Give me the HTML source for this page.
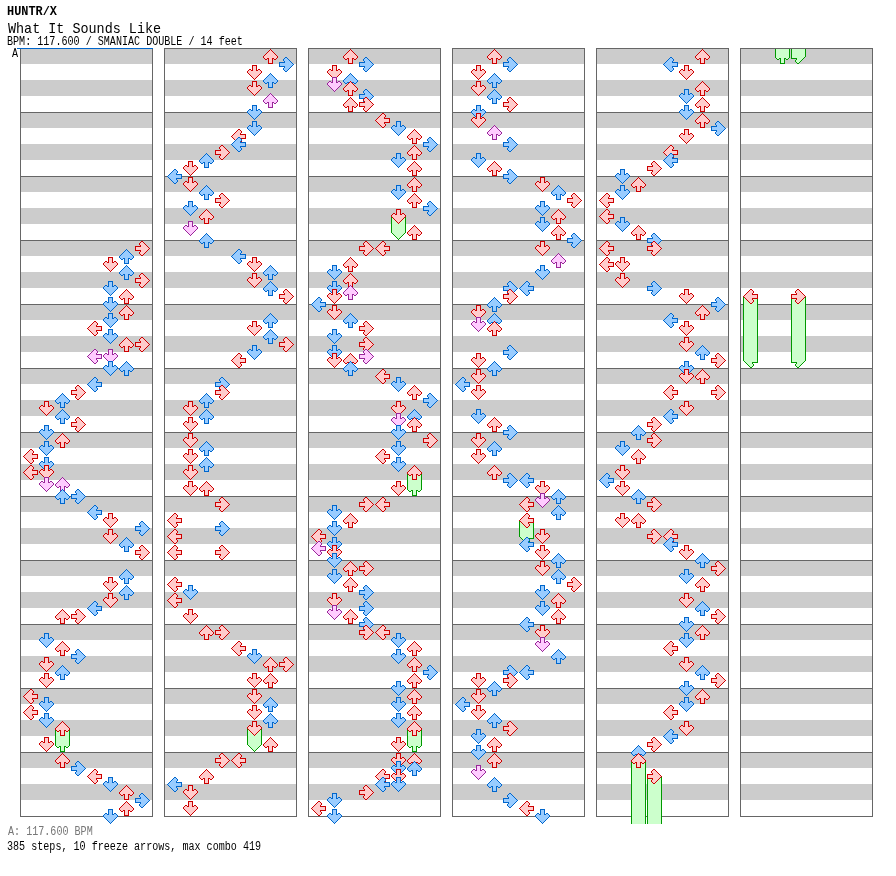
<!DOCTYPE html>
<html><head><meta charset="utf-8"><title>HUNTR/X - What It Sounds Like</title>
<style>
html,body{margin:0;padding:0;background:#fff}
body{width:896px;height:876px;position:relative;overflow:hidden;font-family:"Liberation Mono",monospace;color:#000}
.t{position:absolute;white-space:pre;line-height:1;transform-origin:0 0}
#artist{left:7px;top:6px;font-size:12px;font-weight:bold;transform:scaleX(0.99)}
#title{left:8px;top:22px;font-size:15px;transform:scaleX(0.895)}
#bpm{left:7px;top:36px;font-size:12px;transform:scaleX(0.84)}
#a{left:12px;top:48px;font-size:12px;transform:scaleX(0.84)}
#fa{left:8px;top:826px;font-size:12px;transform:scaleX(0.84);color:#777}
#fs{left:7px;top:841px;font-size:12px;transform:scaleX(0.84)}
</style></head><body>
<svg width="896" height="876" viewBox="0 0 896 876" shape-rendering="crispEdges" style="position:absolute;left:0;top:0">
<defs><symbol id="oL" overflow="visible"><path d="M7 0h2v1h-2zM6 1h1v1h-1zM9 1h1v1h-1zM5 2h1v1h-1zM10 2h1v1h-1zM4 3h1v1h-1zM10 3h1v1h-1zM3 4h1v1h-1zM9 4h1v1h-1zM2 5h1v1h-1zM9 5h6v1h-6zM1 6h1v1h-1zM14 6h1v1h-1zM0 7h1v1h-1zM14 7h1v1h-1zM1 8h1v1h-1zM14 8h1v1h-1zM2 9h1v1h-1zM9 9h6v1h-6zM3 10h1v1h-1zM9 10h1v1h-1zM4 11h1v1h-1zM10 11h1v1h-1zM5 12h1v1h-1zM10 12h1v1h-1zM6 13h1v1h-1zM9 13h1v1h-1zM7 14h2v1h-2z"/></symbol>
<symbol id="fL" overflow="visible"><path d="M7 1h2v1h-2zM6 2h4v1h-4zM5 3h5v1h-5zM4 4h5v1h-5zM3 5h6v1h-6zM2 6h12v1h-12zM1 7h13v1h-13zM2 8h12v1h-12zM3 9h6v1h-6zM4 10h5v1h-5zM5 11h5v1h-5zM6 12h4v1h-4zM7 13h2v1h-2z"/></symbol>
<symbol id="toL" overflow="visible"><path d="M1 8h1v1h-1zM14 8h1v1h-1zM2 9h1v1h-1zM9 9h6v1h-6zM3 10h1v1h-1zM9 10h1v1h-1zM4 11h1v1h-1zM10 11h1v1h-1zM5 12h1v1h-1zM10 12h1v1h-1zM6 13h1v1h-1zM9 13h1v1h-1zM7 14h2v1h-2z"/></symbol>
<symbol id="tfL" overflow="visible"><path d="M2 8h12v1h-12zM3 9h6v1h-6zM4 10h5v1h-5zM5 11h5v1h-5zM6 12h4v1h-4zM7 13h2v1h-2z"/></symbol>
<symbol id="oD" overflow="visible"><path d="M5 0h5v1h-5zM5 1h1v1h-1zM9 1h1v1h-1zM5 2h1v1h-1zM9 2h1v1h-1zM5 3h1v1h-1zM9 3h1v1h-1zM2 4h2v1h-2zM5 4h1v1h-1zM9 4h1v1h-1zM11 4h2v1h-2zM1 5h1v1h-1zM4 5h2v1h-2zM9 5h2v1h-2zM13 5h1v1h-1zM0 6h1v1h-1zM14 6h1v1h-1zM0 7h1v1h-1zM14 7h1v1h-1zM1 8h1v1h-1zM13 8h1v1h-1zM2 9h1v1h-1zM12 9h1v1h-1zM3 10h1v1h-1zM11 10h1v1h-1zM4 11h1v1h-1zM10 11h1v1h-1zM5 12h1v1h-1zM9 12h1v1h-1zM6 13h1v1h-1zM8 13h1v1h-1zM7 14h1v1h-1z"/></symbol>
<symbol id="fD" overflow="visible"><path d="M6 1h3v1h-3zM6 2h3v1h-3zM6 3h3v1h-3zM6 4h3v1h-3zM2 5h2v1h-2zM6 5h3v1h-3zM11 5h2v1h-2zM1 6h13v1h-13zM1 7h13v1h-13zM2 8h11v1h-11zM3 9h9v1h-9zM4 10h7v1h-7zM5 11h5v1h-5zM6 12h3v1h-3zM7 13h1v1h-1z"/></symbol>
<symbol id="toD" overflow="visible"><path d="M1 8h1v1h-1zM13 8h1v1h-1zM2 9h1v1h-1zM12 9h1v1h-1zM3 10h1v1h-1zM11 10h1v1h-1zM4 11h1v1h-1zM10 11h1v1h-1zM5 12h1v1h-1zM9 12h1v1h-1zM6 13h1v1h-1zM8 13h1v1h-1zM7 14h1v1h-1z"/></symbol>
<symbol id="tfD" overflow="visible"><path d="M2 8h11v1h-11zM3 9h9v1h-9zM4 10h7v1h-7zM5 11h5v1h-5zM6 12h3v1h-3zM7 13h1v1h-1z"/></symbol>
<symbol id="oU" overflow="visible"><path d="M7 0h1v1h-1zM6 1h1v1h-1zM8 1h1v1h-1zM5 2h1v1h-1zM9 2h1v1h-1zM4 3h1v1h-1zM10 3h1v1h-1zM3 4h1v1h-1zM11 4h1v1h-1zM2 5h1v1h-1zM12 5h1v1h-1zM1 6h1v1h-1zM13 6h1v1h-1zM0 7h1v1h-1zM14 7h1v1h-1zM0 8h1v1h-1zM14 8h1v1h-1zM1 9h1v1h-1zM4 9h2v1h-2zM9 9h2v1h-2zM13 9h1v1h-1zM2 10h2v1h-2zM5 10h1v1h-1zM9 10h1v1h-1zM11 10h2v1h-2zM5 11h1v1h-1zM9 11h1v1h-1zM5 12h1v1h-1zM9 12h1v1h-1zM5 13h1v1h-1zM9 13h1v1h-1zM5 14h5v1h-5z"/></symbol>
<symbol id="fU" overflow="visible"><path d="M7 1h1v1h-1zM6 2h3v1h-3zM5 3h5v1h-5zM4 4h7v1h-7zM3 5h9v1h-9zM2 6h11v1h-11zM1 7h13v1h-13zM1 8h13v1h-13zM2 9h2v1h-2zM6 9h3v1h-3zM11 9h2v1h-2zM6 10h3v1h-3zM6 11h3v1h-3zM6 12h3v1h-3zM6 13h3v1h-3z"/></symbol>
<symbol id="toU" overflow="visible"><path d="M0 8h1v1h-1zM14 8h1v1h-1zM1 9h1v1h-1zM4 9h2v1h-2zM9 9h2v1h-2zM13 9h1v1h-1zM2 10h2v1h-2zM5 10h1v1h-1zM9 10h1v1h-1zM11 10h2v1h-2zM5 11h1v1h-1zM9 11h1v1h-1zM5 12h1v1h-1zM9 12h1v1h-1zM5 13h1v1h-1zM9 13h1v1h-1zM5 14h5v1h-5z"/></symbol>
<symbol id="tfU" overflow="visible"><path d="M1 8h13v1h-13zM2 9h2v1h-2zM6 9h3v1h-3zM11 9h2v1h-2zM6 10h3v1h-3zM6 11h3v1h-3zM6 12h3v1h-3zM6 13h3v1h-3z"/></symbol>
<symbol id="oR" overflow="visible"><path d="M6 0h2v1h-2zM5 1h1v1h-1zM8 1h1v1h-1zM4 2h1v1h-1zM9 2h1v1h-1zM4 3h1v1h-1zM10 3h1v1h-1zM5 4h1v1h-1zM11 4h1v1h-1zM0 5h6v1h-6zM12 5h1v1h-1zM0 6h1v1h-1zM13 6h1v1h-1zM0 7h1v1h-1zM14 7h1v1h-1zM0 8h1v1h-1zM13 8h1v1h-1zM0 9h6v1h-6zM12 9h1v1h-1zM5 10h1v1h-1zM11 10h1v1h-1zM4 11h1v1h-1zM10 11h1v1h-1zM4 12h1v1h-1zM9 12h1v1h-1zM5 13h1v1h-1zM8 13h1v1h-1zM6 14h2v1h-2z"/></symbol>
<symbol id="fR" overflow="visible"><path d="M6 1h2v1h-2zM5 2h4v1h-4zM5 3h5v1h-5zM6 4h5v1h-5zM6 5h6v1h-6zM1 6h12v1h-12zM1 7h13v1h-13zM1 8h12v1h-12zM6 9h6v1h-6zM6 10h5v1h-5zM5 11h5v1h-5zM5 12h4v1h-4zM6 13h2v1h-2z"/></symbol>
<symbol id="toR" overflow="visible"><path d="M0 8h1v1h-1zM13 8h1v1h-1zM0 9h6v1h-6zM12 9h1v1h-1zM5 10h1v1h-1zM11 10h1v1h-1zM4 11h1v1h-1zM10 11h1v1h-1zM4 12h1v1h-1zM9 12h1v1h-1zM5 13h1v1h-1zM8 13h1v1h-1zM6 14h2v1h-2z"/></symbol>
<symbol id="tfR" overflow="visible"><path d="M1 8h12v1h-12zM6 9h6v1h-6zM6 10h5v1h-5zM5 11h5v1h-5zM5 12h4v1h-4zM6 13h2v1h-2z"/></symbol></defs>
<rect x="20" y="48" width="133" height="769" fill="#666"/>
<rect x="21" y="49" width="131" height="767" fill="#fff"/>
<rect x="21" y="49" width="131" height="15" fill="#ccc"/>
<rect x="21" y="80" width="131" height="16" fill="#ccc"/>
<rect x="21" y="113" width="131" height="15" fill="#ccc"/>
<rect x="21" y="144" width="131" height="16" fill="#ccc"/>
<rect x="20" y="112" width="133" height="1" fill="#666"/>
<rect x="21" y="177" width="131" height="15" fill="#ccc"/>
<rect x="21" y="208" width="131" height="16" fill="#ccc"/>
<rect x="20" y="176" width="133" height="1" fill="#666"/>
<rect x="21" y="241" width="131" height="15" fill="#ccc"/>
<rect x="21" y="272" width="131" height="16" fill="#ccc"/>
<rect x="20" y="240" width="133" height="1" fill="#666"/>
<rect x="21" y="305" width="131" height="15" fill="#ccc"/>
<rect x="21" y="336" width="131" height="16" fill="#ccc"/>
<rect x="20" y="304" width="133" height="1" fill="#666"/>
<rect x="21" y="369" width="131" height="15" fill="#ccc"/>
<rect x="21" y="400" width="131" height="16" fill="#ccc"/>
<rect x="20" y="368" width="133" height="1" fill="#666"/>
<rect x="21" y="433" width="131" height="15" fill="#ccc"/>
<rect x="21" y="464" width="131" height="16" fill="#ccc"/>
<rect x="20" y="432" width="133" height="1" fill="#666"/>
<rect x="21" y="497" width="131" height="15" fill="#ccc"/>
<rect x="21" y="528" width="131" height="16" fill="#ccc"/>
<rect x="20" y="496" width="133" height="1" fill="#666"/>
<rect x="21" y="561" width="131" height="15" fill="#ccc"/>
<rect x="21" y="592" width="131" height="16" fill="#ccc"/>
<rect x="20" y="560" width="133" height="1" fill="#666"/>
<rect x="21" y="625" width="131" height="15" fill="#ccc"/>
<rect x="21" y="656" width="131" height="16" fill="#ccc"/>
<rect x="20" y="624" width="133" height="1" fill="#666"/>
<rect x="21" y="689" width="131" height="15" fill="#ccc"/>
<rect x="21" y="720" width="131" height="16" fill="#ccc"/>
<rect x="20" y="688" width="133" height="1" fill="#666"/>
<rect x="21" y="753" width="131" height="15" fill="#ccc"/>
<rect x="21" y="784" width="131" height="16" fill="#ccc"/>
<rect x="20" y="752" width="133" height="1" fill="#666"/>
<rect x="164" y="48" width="133" height="769" fill="#666"/>
<rect x="165" y="49" width="131" height="767" fill="#fff"/>
<rect x="165" y="49" width="131" height="15" fill="#ccc"/>
<rect x="165" y="80" width="131" height="16" fill="#ccc"/>
<rect x="165" y="113" width="131" height="15" fill="#ccc"/>
<rect x="165" y="144" width="131" height="16" fill="#ccc"/>
<rect x="164" y="112" width="133" height="1" fill="#666"/>
<rect x="165" y="177" width="131" height="15" fill="#ccc"/>
<rect x="165" y="208" width="131" height="16" fill="#ccc"/>
<rect x="164" y="176" width="133" height="1" fill="#666"/>
<rect x="165" y="241" width="131" height="15" fill="#ccc"/>
<rect x="165" y="272" width="131" height="16" fill="#ccc"/>
<rect x="164" y="240" width="133" height="1" fill="#666"/>
<rect x="165" y="305" width="131" height="15" fill="#ccc"/>
<rect x="165" y="336" width="131" height="16" fill="#ccc"/>
<rect x="164" y="304" width="133" height="1" fill="#666"/>
<rect x="165" y="369" width="131" height="15" fill="#ccc"/>
<rect x="165" y="400" width="131" height="16" fill="#ccc"/>
<rect x="164" y="368" width="133" height="1" fill="#666"/>
<rect x="165" y="433" width="131" height="15" fill="#ccc"/>
<rect x="165" y="464" width="131" height="16" fill="#ccc"/>
<rect x="164" y="432" width="133" height="1" fill="#666"/>
<rect x="165" y="497" width="131" height="15" fill="#ccc"/>
<rect x="165" y="528" width="131" height="16" fill="#ccc"/>
<rect x="164" y="496" width="133" height="1" fill="#666"/>
<rect x="165" y="561" width="131" height="15" fill="#ccc"/>
<rect x="165" y="592" width="131" height="16" fill="#ccc"/>
<rect x="164" y="560" width="133" height="1" fill="#666"/>
<rect x="165" y="625" width="131" height="15" fill="#ccc"/>
<rect x="165" y="656" width="131" height="16" fill="#ccc"/>
<rect x="164" y="624" width="133" height="1" fill="#666"/>
<rect x="165" y="689" width="131" height="15" fill="#ccc"/>
<rect x="165" y="720" width="131" height="16" fill="#ccc"/>
<rect x="164" y="688" width="133" height="1" fill="#666"/>
<rect x="165" y="753" width="131" height="15" fill="#ccc"/>
<rect x="165" y="784" width="131" height="16" fill="#ccc"/>
<rect x="164" y="752" width="133" height="1" fill="#666"/>
<rect x="308" y="48" width="133" height="769" fill="#666"/>
<rect x="309" y="49" width="131" height="767" fill="#fff"/>
<rect x="309" y="49" width="131" height="15" fill="#ccc"/>
<rect x="309" y="80" width="131" height="16" fill="#ccc"/>
<rect x="309" y="113" width="131" height="15" fill="#ccc"/>
<rect x="309" y="144" width="131" height="16" fill="#ccc"/>
<rect x="308" y="112" width="133" height="1" fill="#666"/>
<rect x="309" y="177" width="131" height="15" fill="#ccc"/>
<rect x="309" y="208" width="131" height="16" fill="#ccc"/>
<rect x="308" y="176" width="133" height="1" fill="#666"/>
<rect x="309" y="241" width="131" height="15" fill="#ccc"/>
<rect x="309" y="272" width="131" height="16" fill="#ccc"/>
<rect x="308" y="240" width="133" height="1" fill="#666"/>
<rect x="309" y="305" width="131" height="15" fill="#ccc"/>
<rect x="309" y="336" width="131" height="16" fill="#ccc"/>
<rect x="308" y="304" width="133" height="1" fill="#666"/>
<rect x="309" y="369" width="131" height="15" fill="#ccc"/>
<rect x="309" y="400" width="131" height="16" fill="#ccc"/>
<rect x="308" y="368" width="133" height="1" fill="#666"/>
<rect x="309" y="433" width="131" height="15" fill="#ccc"/>
<rect x="309" y="464" width="131" height="16" fill="#ccc"/>
<rect x="308" y="432" width="133" height="1" fill="#666"/>
<rect x="309" y="497" width="131" height="15" fill="#ccc"/>
<rect x="309" y="528" width="131" height="16" fill="#ccc"/>
<rect x="308" y="496" width="133" height="1" fill="#666"/>
<rect x="309" y="561" width="131" height="15" fill="#ccc"/>
<rect x="309" y="592" width="131" height="16" fill="#ccc"/>
<rect x="308" y="560" width="133" height="1" fill="#666"/>
<rect x="309" y="625" width="131" height="15" fill="#ccc"/>
<rect x="309" y="656" width="131" height="16" fill="#ccc"/>
<rect x="308" y="624" width="133" height="1" fill="#666"/>
<rect x="309" y="689" width="131" height="15" fill="#ccc"/>
<rect x="309" y="720" width="131" height="16" fill="#ccc"/>
<rect x="308" y="688" width="133" height="1" fill="#666"/>
<rect x="309" y="753" width="131" height="15" fill="#ccc"/>
<rect x="309" y="784" width="131" height="16" fill="#ccc"/>
<rect x="308" y="752" width="133" height="1" fill="#666"/>
<rect x="452" y="48" width="133" height="769" fill="#666"/>
<rect x="453" y="49" width="131" height="767" fill="#fff"/>
<rect x="453" y="49" width="131" height="15" fill="#ccc"/>
<rect x="453" y="80" width="131" height="16" fill="#ccc"/>
<rect x="453" y="113" width="131" height="15" fill="#ccc"/>
<rect x="453" y="144" width="131" height="16" fill="#ccc"/>
<rect x="452" y="112" width="133" height="1" fill="#666"/>
<rect x="453" y="177" width="131" height="15" fill="#ccc"/>
<rect x="453" y="208" width="131" height="16" fill="#ccc"/>
<rect x="452" y="176" width="133" height="1" fill="#666"/>
<rect x="453" y="241" width="131" height="15" fill="#ccc"/>
<rect x="453" y="272" width="131" height="16" fill="#ccc"/>
<rect x="452" y="240" width="133" height="1" fill="#666"/>
<rect x="453" y="305" width="131" height="15" fill="#ccc"/>
<rect x="453" y="336" width="131" height="16" fill="#ccc"/>
<rect x="452" y="304" width="133" height="1" fill="#666"/>
<rect x="453" y="369" width="131" height="15" fill="#ccc"/>
<rect x="453" y="400" width="131" height="16" fill="#ccc"/>
<rect x="452" y="368" width="133" height="1" fill="#666"/>
<rect x="453" y="433" width="131" height="15" fill="#ccc"/>
<rect x="453" y="464" width="131" height="16" fill="#ccc"/>
<rect x="452" y="432" width="133" height="1" fill="#666"/>
<rect x="453" y="497" width="131" height="15" fill="#ccc"/>
<rect x="453" y="528" width="131" height="16" fill="#ccc"/>
<rect x="452" y="496" width="133" height="1" fill="#666"/>
<rect x="453" y="561" width="131" height="15" fill="#ccc"/>
<rect x="453" y="592" width="131" height="16" fill="#ccc"/>
<rect x="452" y="560" width="133" height="1" fill="#666"/>
<rect x="453" y="625" width="131" height="15" fill="#ccc"/>
<rect x="453" y="656" width="131" height="16" fill="#ccc"/>
<rect x="452" y="624" width="133" height="1" fill="#666"/>
<rect x="453" y="689" width="131" height="15" fill="#ccc"/>
<rect x="453" y="720" width="131" height="16" fill="#ccc"/>
<rect x="452" y="688" width="133" height="1" fill="#666"/>
<rect x="453" y="753" width="131" height="15" fill="#ccc"/>
<rect x="453" y="784" width="131" height="16" fill="#ccc"/>
<rect x="452" y="752" width="133" height="1" fill="#666"/>
<rect x="596" y="48" width="133" height="769" fill="#666"/>
<rect x="597" y="49" width="131" height="767" fill="#fff"/>
<rect x="597" y="49" width="131" height="15" fill="#ccc"/>
<rect x="597" y="80" width="131" height="16" fill="#ccc"/>
<rect x="597" y="113" width="131" height="15" fill="#ccc"/>
<rect x="597" y="144" width="131" height="16" fill="#ccc"/>
<rect x="596" y="112" width="133" height="1" fill="#666"/>
<rect x="597" y="177" width="131" height="15" fill="#ccc"/>
<rect x="597" y="208" width="131" height="16" fill="#ccc"/>
<rect x="596" y="176" width="133" height="1" fill="#666"/>
<rect x="597" y="241" width="131" height="15" fill="#ccc"/>
<rect x="597" y="272" width="131" height="16" fill="#ccc"/>
<rect x="596" y="240" width="133" height="1" fill="#666"/>
<rect x="597" y="305" width="131" height="15" fill="#ccc"/>
<rect x="597" y="336" width="131" height="16" fill="#ccc"/>
<rect x="596" y="304" width="133" height="1" fill="#666"/>
<rect x="597" y="369" width="131" height="15" fill="#ccc"/>
<rect x="597" y="400" width="131" height="16" fill="#ccc"/>
<rect x="596" y="368" width="133" height="1" fill="#666"/>
<rect x="597" y="433" width="131" height="15" fill="#ccc"/>
<rect x="597" y="464" width="131" height="16" fill="#ccc"/>
<rect x="596" y="432" width="133" height="1" fill="#666"/>
<rect x="597" y="497" width="131" height="15" fill="#ccc"/>
<rect x="597" y="528" width="131" height="16" fill="#ccc"/>
<rect x="596" y="496" width="133" height="1" fill="#666"/>
<rect x="597" y="561" width="131" height="15" fill="#ccc"/>
<rect x="597" y="592" width="131" height="16" fill="#ccc"/>
<rect x="596" y="560" width="133" height="1" fill="#666"/>
<rect x="597" y="625" width="131" height="15" fill="#ccc"/>
<rect x="597" y="656" width="131" height="16" fill="#ccc"/>
<rect x="596" y="624" width="133" height="1" fill="#666"/>
<rect x="597" y="689" width="131" height="15" fill="#ccc"/>
<rect x="597" y="720" width="131" height="16" fill="#ccc"/>
<rect x="596" y="688" width="133" height="1" fill="#666"/>
<rect x="597" y="753" width="131" height="15" fill="#ccc"/>
<rect x="597" y="784" width="131" height="16" fill="#ccc"/>
<rect x="596" y="752" width="133" height="1" fill="#666"/>
<rect x="740" y="48" width="133" height="769" fill="#666"/>
<rect x="741" y="49" width="131" height="767" fill="#fff"/>
<rect x="741" y="49" width="131" height="15" fill="#ccc"/>
<rect x="741" y="80" width="131" height="16" fill="#ccc"/>
<rect x="741" y="113" width="131" height="15" fill="#ccc"/>
<rect x="741" y="144" width="131" height="16" fill="#ccc"/>
<rect x="740" y="112" width="133" height="1" fill="#666"/>
<rect x="741" y="177" width="131" height="15" fill="#ccc"/>
<rect x="741" y="208" width="131" height="16" fill="#ccc"/>
<rect x="740" y="176" width="133" height="1" fill="#666"/>
<rect x="741" y="241" width="131" height="15" fill="#ccc"/>
<rect x="741" y="272" width="131" height="16" fill="#ccc"/>
<rect x="740" y="240" width="133" height="1" fill="#666"/>
<rect x="741" y="305" width="131" height="15" fill="#ccc"/>
<rect x="741" y="336" width="131" height="16" fill="#ccc"/>
<rect x="740" y="304" width="133" height="1" fill="#666"/>
<rect x="741" y="369" width="131" height="15" fill="#ccc"/>
<rect x="741" y="400" width="131" height="16" fill="#ccc"/>
<rect x="740" y="368" width="133" height="1" fill="#666"/>
<rect x="741" y="433" width="131" height="15" fill="#ccc"/>
<rect x="741" y="464" width="131" height="16" fill="#ccc"/>
<rect x="740" y="432" width="133" height="1" fill="#666"/>
<rect x="741" y="497" width="131" height="15" fill="#ccc"/>
<rect x="741" y="528" width="131" height="16" fill="#ccc"/>
<rect x="740" y="496" width="133" height="1" fill="#666"/>
<rect x="741" y="561" width="131" height="15" fill="#ccc"/>
<rect x="741" y="592" width="131" height="16" fill="#ccc"/>
<rect x="740" y="560" width="133" height="1" fill="#666"/>
<rect x="741" y="625" width="131" height="15" fill="#ccc"/>
<rect x="741" y="656" width="131" height="16" fill="#ccc"/>
<rect x="740" y="624" width="133" height="1" fill="#666"/>
<rect x="741" y="689" width="131" height="15" fill="#ccc"/>
<rect x="741" y="720" width="131" height="16" fill="#ccc"/>
<rect x="740" y="688" width="133" height="1" fill="#666"/>
<rect x="741" y="753" width="131" height="15" fill="#ccc"/>
<rect x="741" y="784" width="131" height="16" fill="#ccc"/>
<rect x="740" y="752" width="133" height="1" fill="#666"/>
<rect x="17" y="48" width="136" height="1" fill="#0066cc"/>
<use href="#fR" x="135" y="241" fill="#ffcccc"/><use href="#oR" x="135" y="241" fill="#cc0000"/>
<use href="#fU" x="119" y="249" fill="#99ccff"/><use href="#oU" x="119" y="249" fill="#0066cc"/>
<use href="#fD" x="103" y="257" fill="#ffcccc"/><use href="#oD" x="103" y="257" fill="#cc0000"/>
<use href="#fU" x="119" y="265" fill="#99ccff"/><use href="#oU" x="119" y="265" fill="#0066cc"/>
<use href="#fR" x="135" y="273" fill="#ffcccc"/><use href="#oR" x="135" y="273" fill="#cc0000"/>
<use href="#fD" x="103" y="281" fill="#99ccff"/><use href="#oD" x="103" y="281" fill="#0066cc"/>
<use href="#fU" x="119" y="289" fill="#ffcccc"/><use href="#oU" x="119" y="289" fill="#cc0000"/>
<use href="#fD" x="103" y="297" fill="#99ccff"/><use href="#oD" x="103" y="297" fill="#0066cc"/>
<use href="#fU" x="119" y="305" fill="#ffcccc"/><use href="#oU" x="119" y="305" fill="#cc0000"/>
<use href="#fD" x="103" y="313" fill="#99ccff"/><use href="#oD" x="103" y="313" fill="#0066cc"/>
<use href="#fL" x="87" y="321" fill="#ffcccc"/><use href="#oL" x="87" y="321" fill="#cc0000"/>
<use href="#fD" x="103" y="329" fill="#99ccff"/><use href="#oD" x="103" y="329" fill="#0066cc"/>
<use href="#fU" x="119" y="337" fill="#ffcccc"/><use href="#oU" x="119" y="337" fill="#cc0000"/>
<use href="#fR" x="135" y="337" fill="#ffcccc"/><use href="#oR" x="135" y="337" fill="#cc0000"/>
<use href="#fL" x="87" y="349" fill="#ffccff"/><use href="#oL" x="87" y="349" fill="#992699"/>
<use href="#fD" x="103" y="349" fill="#ffccff"/><use href="#oD" x="103" y="349" fill="#992699"/>
<use href="#fD" x="103" y="361" fill="#99ccff"/><use href="#oD" x="103" y="361" fill="#0066cc"/>
<use href="#fU" x="119" y="361" fill="#99ccff"/><use href="#oU" x="119" y="361" fill="#0066cc"/>
<use href="#fL" x="87" y="377" fill="#99ccff"/><use href="#oL" x="87" y="377" fill="#0066cc"/>
<use href="#fR" x="71" y="385" fill="#ffcccc"/><use href="#oR" x="71" y="385" fill="#cc0000"/>
<use href="#fU" x="55" y="393" fill="#99ccff"/><use href="#oU" x="55" y="393" fill="#0066cc"/>
<use href="#fD" x="39" y="401" fill="#ffcccc"/><use href="#oD" x="39" y="401" fill="#cc0000"/>
<use href="#fU" x="55" y="409" fill="#99ccff"/><use href="#oU" x="55" y="409" fill="#0066cc"/>
<use href="#fR" x="71" y="417" fill="#ffcccc"/><use href="#oR" x="71" y="417" fill="#cc0000"/>
<use href="#fD" x="39" y="425" fill="#99ccff"/><use href="#oD" x="39" y="425" fill="#0066cc"/>
<use href="#fU" x="55" y="433" fill="#ffcccc"/><use href="#oU" x="55" y="433" fill="#cc0000"/>
<use href="#fD" x="39" y="441" fill="#99ccff"/><use href="#oD" x="39" y="441" fill="#0066cc"/>
<use href="#fL" x="23" y="449" fill="#ffcccc"/><use href="#oL" x="23" y="449" fill="#cc0000"/>
<use href="#fD" x="39" y="457" fill="#99ccff"/><use href="#oD" x="39" y="457" fill="#0066cc"/>
<use href="#fL" x="23" y="465" fill="#ffcccc"/><use href="#oL" x="23" y="465" fill="#cc0000"/>
<use href="#fD" x="39" y="465" fill="#ffcccc"/><use href="#oD" x="39" y="465" fill="#cc0000"/>
<use href="#fD" x="39" y="477" fill="#ffccff"/><use href="#oD" x="39" y="477" fill="#992699"/>
<use href="#fU" x="55" y="477" fill="#ffccff"/><use href="#oU" x="55" y="477" fill="#992699"/>
<use href="#fU" x="55" y="489" fill="#99ccff"/><use href="#oU" x="55" y="489" fill="#0066cc"/>
<use href="#fR" x="71" y="489" fill="#99ccff"/><use href="#oR" x="71" y="489" fill="#0066cc"/>
<use href="#fL" x="87" y="505" fill="#99ccff"/><use href="#oL" x="87" y="505" fill="#0066cc"/>
<use href="#fD" x="103" y="513" fill="#ffcccc"/><use href="#oD" x="103" y="513" fill="#cc0000"/>
<use href="#fR" x="135" y="521" fill="#99ccff"/><use href="#oR" x="135" y="521" fill="#0066cc"/>
<use href="#fD" x="103" y="529" fill="#ffcccc"/><use href="#oD" x="103" y="529" fill="#cc0000"/>
<use href="#fU" x="119" y="537" fill="#99ccff"/><use href="#oU" x="119" y="537" fill="#0066cc"/>
<use href="#fR" x="135" y="545" fill="#ffcccc"/><use href="#oR" x="135" y="545" fill="#cc0000"/>
<use href="#fU" x="119" y="569" fill="#99ccff"/><use href="#oU" x="119" y="569" fill="#0066cc"/>
<use href="#fD" x="103" y="577" fill="#ffcccc"/><use href="#oD" x="103" y="577" fill="#cc0000"/>
<use href="#fU" x="119" y="585" fill="#99ccff"/><use href="#oU" x="119" y="585" fill="#0066cc"/>
<use href="#fD" x="103" y="593" fill="#ffcccc"/><use href="#oD" x="103" y="593" fill="#cc0000"/>
<use href="#fL" x="87" y="601" fill="#99ccff"/><use href="#oL" x="87" y="601" fill="#0066cc"/>
<use href="#fU" x="55" y="609" fill="#ffcccc"/><use href="#oU" x="55" y="609" fill="#cc0000"/>
<use href="#fR" x="71" y="609" fill="#ffcccc"/><use href="#oR" x="71" y="609" fill="#cc0000"/>
<use href="#fD" x="39" y="633" fill="#99ccff"/><use href="#oD" x="39" y="633" fill="#0066cc"/>
<use href="#fU" x="55" y="641" fill="#ffcccc"/><use href="#oU" x="55" y="641" fill="#cc0000"/>
<use href="#fR" x="71" y="649" fill="#99ccff"/><use href="#oR" x="71" y="649" fill="#0066cc"/>
<use href="#fD" x="39" y="657" fill="#ffcccc"/><use href="#oD" x="39" y="657" fill="#cc0000"/>
<use href="#fU" x="55" y="665" fill="#99ccff"/><use href="#oU" x="55" y="665" fill="#0066cc"/>
<use href="#fD" x="39" y="673" fill="#ffcccc"/><use href="#oD" x="39" y="673" fill="#cc0000"/>
<use href="#fL" x="23" y="689" fill="#ffcccc"/><use href="#oL" x="23" y="689" fill="#cc0000"/>
<use href="#fD" x="39" y="697" fill="#99ccff"/><use href="#oD" x="39" y="697" fill="#0066cc"/>
<use href="#fL" x="23" y="705" fill="#ffcccc"/><use href="#oL" x="23" y="705" fill="#cc0000"/>
<use href="#fD" x="39" y="713" fill="#99ccff"/><use href="#oD" x="39" y="713" fill="#0066cc"/>
<rect x="55" y="728" width="15" height="17" fill="#009900"/>
<rect x="56" y="728" width="13" height="17" fill="#ccffcc"/>
<use href="#tfU" x="55" y="737" fill="#ccffcc"/><use href="#toU" x="55" y="737" fill="#009900"/>
<use href="#fU" x="55" y="721" fill="#ffcccc"/><use href="#oU" x="55" y="721" fill="#cc0000"/>
<use href="#fD" x="39" y="737" fill="#ffcccc"/><use href="#oD" x="39" y="737" fill="#cc0000"/>
<use href="#fU" x="55" y="753" fill="#ffcccc"/><use href="#oU" x="55" y="753" fill="#cc0000"/>
<use href="#fR" x="71" y="761" fill="#99ccff"/><use href="#oR" x="71" y="761" fill="#0066cc"/>
<use href="#fL" x="87" y="769" fill="#ffcccc"/><use href="#oL" x="87" y="769" fill="#cc0000"/>
<use href="#fD" x="103" y="777" fill="#99ccff"/><use href="#oD" x="103" y="777" fill="#0066cc"/>
<use href="#fU" x="119" y="785" fill="#ffcccc"/><use href="#oU" x="119" y="785" fill="#cc0000"/>
<use href="#fR" x="135" y="793" fill="#99ccff"/><use href="#oR" x="135" y="793" fill="#0066cc"/>
<use href="#fU" x="119" y="801" fill="#ffcccc"/><use href="#oU" x="119" y="801" fill="#cc0000"/>
<use href="#fD" x="103" y="809" fill="#99ccff"/><use href="#oD" x="103" y="809" fill="#0066cc"/>
<use href="#fU" x="263" y="49" fill="#ffcccc"/><use href="#oU" x="263" y="49" fill="#cc0000"/>
<use href="#fR" x="279" y="57" fill="#99ccff"/><use href="#oR" x="279" y="57" fill="#0066cc"/>
<use href="#fD" x="247" y="65" fill="#ffcccc"/><use href="#oD" x="247" y="65" fill="#cc0000"/>
<use href="#fU" x="263" y="73" fill="#99ccff"/><use href="#oU" x="263" y="73" fill="#0066cc"/>
<use href="#fD" x="247" y="81" fill="#ffcccc"/><use href="#oD" x="247" y="81" fill="#cc0000"/>
<use href="#fU" x="263" y="93" fill="#ffccff"/><use href="#oU" x="263" y="93" fill="#992699"/>
<use href="#fD" x="247" y="105" fill="#99ccff"/><use href="#oD" x="247" y="105" fill="#0066cc"/>
<use href="#fD" x="247" y="121" fill="#99ccff"/><use href="#oD" x="247" y="121" fill="#0066cc"/>
<use href="#fL" x="231" y="129" fill="#ffcccc"/><use href="#oL" x="231" y="129" fill="#cc0000"/>
<use href="#fL" x="231" y="137" fill="#99ccff"/><use href="#oL" x="231" y="137" fill="#0066cc"/>
<use href="#fR" x="215" y="145" fill="#ffcccc"/><use href="#oR" x="215" y="145" fill="#cc0000"/>
<use href="#fU" x="199" y="153" fill="#99ccff"/><use href="#oU" x="199" y="153" fill="#0066cc"/>
<use href="#fD" x="183" y="161" fill="#ffcccc"/><use href="#oD" x="183" y="161" fill="#cc0000"/>
<use href="#fL" x="167" y="169" fill="#99ccff"/><use href="#oL" x="167" y="169" fill="#0066cc"/>
<use href="#fD" x="183" y="177" fill="#ffcccc"/><use href="#oD" x="183" y="177" fill="#cc0000"/>
<use href="#fU" x="199" y="185" fill="#99ccff"/><use href="#oU" x="199" y="185" fill="#0066cc"/>
<use href="#fR" x="215" y="193" fill="#ffcccc"/><use href="#oR" x="215" y="193" fill="#cc0000"/>
<use href="#fD" x="183" y="201" fill="#99ccff"/><use href="#oD" x="183" y="201" fill="#0066cc"/>
<use href="#fU" x="199" y="209" fill="#ffcccc"/><use href="#oU" x="199" y="209" fill="#cc0000"/>
<use href="#fD" x="183" y="221" fill="#ffccff"/><use href="#oD" x="183" y="221" fill="#992699"/>
<use href="#fU" x="199" y="233" fill="#99ccff"/><use href="#oU" x="199" y="233" fill="#0066cc"/>
<use href="#fL" x="231" y="249" fill="#99ccff"/><use href="#oL" x="231" y="249" fill="#0066cc"/>
<use href="#fD" x="247" y="257" fill="#ffcccc"/><use href="#oD" x="247" y="257" fill="#cc0000"/>
<use href="#fU" x="263" y="265" fill="#99ccff"/><use href="#oU" x="263" y="265" fill="#0066cc"/>
<use href="#fD" x="247" y="273" fill="#ffcccc"/><use href="#oD" x="247" y="273" fill="#cc0000"/>
<use href="#fU" x="263" y="281" fill="#99ccff"/><use href="#oU" x="263" y="281" fill="#0066cc"/>
<use href="#fR" x="279" y="289" fill="#ffcccc"/><use href="#oR" x="279" y="289" fill="#cc0000"/>
<use href="#fU" x="263" y="313" fill="#99ccff"/><use href="#oU" x="263" y="313" fill="#0066cc"/>
<use href="#fD" x="247" y="321" fill="#ffcccc"/><use href="#oD" x="247" y="321" fill="#cc0000"/>
<use href="#fU" x="263" y="329" fill="#99ccff"/><use href="#oU" x="263" y="329" fill="#0066cc"/>
<use href="#fR" x="279" y="337" fill="#ffcccc"/><use href="#oR" x="279" y="337" fill="#cc0000"/>
<use href="#fD" x="247" y="345" fill="#99ccff"/><use href="#oD" x="247" y="345" fill="#0066cc"/>
<use href="#fL" x="231" y="353" fill="#ffcccc"/><use href="#oL" x="231" y="353" fill="#cc0000"/>
<use href="#fR" x="215" y="377" fill="#99ccff"/><use href="#oR" x="215" y="377" fill="#0066cc"/>
<use href="#fR" x="215" y="385" fill="#ffcccc"/><use href="#oR" x="215" y="385" fill="#cc0000"/>
<use href="#fU" x="199" y="393" fill="#99ccff"/><use href="#oU" x="199" y="393" fill="#0066cc"/>
<use href="#fD" x="183" y="401" fill="#ffcccc"/><use href="#oD" x="183" y="401" fill="#cc0000"/>
<use href="#fU" x="199" y="409" fill="#99ccff"/><use href="#oU" x="199" y="409" fill="#0066cc"/>
<use href="#fD" x="183" y="417" fill="#ffcccc"/><use href="#oD" x="183" y="417" fill="#cc0000"/>
<use href="#fD" x="183" y="433" fill="#ffcccc"/><use href="#oD" x="183" y="433" fill="#cc0000"/>
<use href="#fU" x="199" y="441" fill="#99ccff"/><use href="#oU" x="199" y="441" fill="#0066cc"/>
<use href="#fD" x="183" y="449" fill="#ffcccc"/><use href="#oD" x="183" y="449" fill="#cc0000"/>
<use href="#fU" x="199" y="457" fill="#99ccff"/><use href="#oU" x="199" y="457" fill="#0066cc"/>
<use href="#fD" x="183" y="465" fill="#ffcccc"/><use href="#oD" x="183" y="465" fill="#cc0000"/>
<use href="#fD" x="183" y="481" fill="#ffcccc"/><use href="#oD" x="183" y="481" fill="#cc0000"/>
<use href="#fU" x="199" y="481" fill="#ffcccc"/><use href="#oU" x="199" y="481" fill="#cc0000"/>
<use href="#fR" x="215" y="497" fill="#ffcccc"/><use href="#oR" x="215" y="497" fill="#cc0000"/>
<use href="#fL" x="167" y="513" fill="#ffcccc"/><use href="#oL" x="167" y="513" fill="#cc0000"/>
<use href="#fR" x="215" y="521" fill="#99ccff"/><use href="#oR" x="215" y="521" fill="#0066cc"/>
<use href="#fL" x="167" y="529" fill="#ffcccc"/><use href="#oL" x="167" y="529" fill="#cc0000"/>
<use href="#fL" x="167" y="545" fill="#ffcccc"/><use href="#oL" x="167" y="545" fill="#cc0000"/>
<use href="#fR" x="215" y="545" fill="#ffcccc"/><use href="#oR" x="215" y="545" fill="#cc0000"/>
<use href="#fL" x="167" y="577" fill="#ffcccc"/><use href="#oL" x="167" y="577" fill="#cc0000"/>
<use href="#fD" x="183" y="585" fill="#99ccff"/><use href="#oD" x="183" y="585" fill="#0066cc"/>
<use href="#fL" x="167" y="593" fill="#ffcccc"/><use href="#oL" x="167" y="593" fill="#cc0000"/>
<use href="#fD" x="183" y="609" fill="#ffcccc"/><use href="#oD" x="183" y="609" fill="#cc0000"/>
<use href="#fU" x="199" y="625" fill="#ffcccc"/><use href="#oU" x="199" y="625" fill="#cc0000"/>
<use href="#fR" x="215" y="625" fill="#ffcccc"/><use href="#oR" x="215" y="625" fill="#cc0000"/>
<use href="#fL" x="231" y="641" fill="#ffcccc"/><use href="#oL" x="231" y="641" fill="#cc0000"/>
<use href="#fD" x="247" y="649" fill="#99ccff"/><use href="#oD" x="247" y="649" fill="#0066cc"/>
<use href="#fU" x="263" y="657" fill="#ffcccc"/><use href="#oU" x="263" y="657" fill="#cc0000"/>
<use href="#fR" x="279" y="657" fill="#ffcccc"/><use href="#oR" x="279" y="657" fill="#cc0000"/>
<use href="#fD" x="247" y="673" fill="#ffcccc"/><use href="#oD" x="247" y="673" fill="#cc0000"/>
<use href="#fU" x="263" y="673" fill="#ffcccc"/><use href="#oU" x="263" y="673" fill="#cc0000"/>
<use href="#fD" x="247" y="689" fill="#ffcccc"/><use href="#oD" x="247" y="689" fill="#cc0000"/>
<use href="#fU" x="263" y="697" fill="#99ccff"/><use href="#oU" x="263" y="697" fill="#0066cc"/>
<use href="#fD" x="247" y="705" fill="#ffcccc"/><use href="#oD" x="247" y="705" fill="#cc0000"/>
<use href="#fU" x="263" y="713" fill="#99ccff"/><use href="#oU" x="263" y="713" fill="#0066cc"/>
<rect x="247" y="728" width="15" height="17" fill="#009900"/>
<rect x="248" y="728" width="13" height="17" fill="#ccffcc"/>
<use href="#tfD" x="247" y="737" fill="#ccffcc"/><use href="#toD" x="247" y="737" fill="#009900"/>
<use href="#fD" x="247" y="721" fill="#ffcccc"/><use href="#oD" x="247" y="721" fill="#cc0000"/>
<use href="#fU" x="263" y="737" fill="#ffcccc"/><use href="#oU" x="263" y="737" fill="#cc0000"/>
<use href="#fR" x="215" y="753" fill="#ffcccc"/><use href="#oR" x="215" y="753" fill="#cc0000"/>
<use href="#fL" x="231" y="753" fill="#ffcccc"/><use href="#oL" x="231" y="753" fill="#cc0000"/>
<use href="#fU" x="199" y="769" fill="#ffcccc"/><use href="#oU" x="199" y="769" fill="#cc0000"/>
<use href="#fL" x="167" y="777" fill="#99ccff"/><use href="#oL" x="167" y="777" fill="#0066cc"/>
<use href="#fD" x="183" y="785" fill="#ffcccc"/><use href="#oD" x="183" y="785" fill="#cc0000"/>
<use href="#fD" x="183" y="801" fill="#ffcccc"/><use href="#oD" x="183" y="801" fill="#cc0000"/>
<use href="#fU" x="343" y="49" fill="#ffcccc"/><use href="#oU" x="343" y="49" fill="#cc0000"/>
<use href="#fR" x="359" y="57" fill="#99ccff"/><use href="#oR" x="359" y="57" fill="#0066cc"/>
<use href="#fD" x="327" y="65" fill="#ffcccc"/><use href="#oD" x="327" y="65" fill="#cc0000"/>
<use href="#fU" x="343" y="73" fill="#99ccff"/><use href="#oU" x="343" y="73" fill="#0066cc"/>
<use href="#fD" x="327" y="77" fill="#ffccff"/><use href="#oD" x="327" y="77" fill="#992699"/>
<use href="#fU" x="343" y="81" fill="#ffcccc"/><use href="#oU" x="343" y="81" fill="#cc0000"/>
<use href="#fR" x="359" y="89" fill="#99ccff"/><use href="#oR" x="359" y="89" fill="#0066cc"/>
<use href="#fU" x="343" y="97" fill="#ffcccc"/><use href="#oU" x="343" y="97" fill="#cc0000"/>
<use href="#fR" x="359" y="97" fill="#ffcccc"/><use href="#oR" x="359" y="97" fill="#cc0000"/>
<use href="#fL" x="375" y="113" fill="#ffcccc"/><use href="#oL" x="375" y="113" fill="#cc0000"/>
<use href="#fD" x="391" y="121" fill="#99ccff"/><use href="#oD" x="391" y="121" fill="#0066cc"/>
<use href="#fU" x="407" y="129" fill="#ffcccc"/><use href="#oU" x="407" y="129" fill="#cc0000"/>
<use href="#fR" x="423" y="137" fill="#99ccff"/><use href="#oR" x="423" y="137" fill="#0066cc"/>
<use href="#fU" x="407" y="145" fill="#ffcccc"/><use href="#oU" x="407" y="145" fill="#cc0000"/>
<use href="#fD" x="391" y="153" fill="#99ccff"/><use href="#oD" x="391" y="153" fill="#0066cc"/>
<use href="#fU" x="407" y="161" fill="#ffcccc"/><use href="#oU" x="407" y="161" fill="#cc0000"/>
<use href="#fU" x="407" y="177" fill="#ffcccc"/><use href="#oU" x="407" y="177" fill="#cc0000"/>
<use href="#fD" x="391" y="185" fill="#99ccff"/><use href="#oD" x="391" y="185" fill="#0066cc"/>
<use href="#fU" x="407" y="193" fill="#ffcccc"/><use href="#oU" x="407" y="193" fill="#cc0000"/>
<use href="#fR" x="423" y="201" fill="#99ccff"/><use href="#oR" x="423" y="201" fill="#0066cc"/>
<rect x="391" y="216" width="15" height="17" fill="#009900"/>
<rect x="392" y="216" width="13" height="17" fill="#ccffcc"/>
<use href="#tfD" x="391" y="225" fill="#ccffcc"/><use href="#toD" x="391" y="225" fill="#009900"/>
<use href="#fD" x="391" y="209" fill="#ffcccc"/><use href="#oD" x="391" y="209" fill="#cc0000"/>
<use href="#fU" x="407" y="225" fill="#ffcccc"/><use href="#oU" x="407" y="225" fill="#cc0000"/>
<use href="#fR" x="359" y="241" fill="#ffcccc"/><use href="#oR" x="359" y="241" fill="#cc0000"/>
<use href="#fL" x="375" y="241" fill="#ffcccc"/><use href="#oL" x="375" y="241" fill="#cc0000"/>
<use href="#fU" x="343" y="257" fill="#ffcccc"/><use href="#oU" x="343" y="257" fill="#cc0000"/>
<use href="#fD" x="327" y="265" fill="#99ccff"/><use href="#oD" x="327" y="265" fill="#0066cc"/>
<use href="#fU" x="343" y="273" fill="#ffcccc"/><use href="#oU" x="343" y="273" fill="#cc0000"/>
<use href="#fD" x="327" y="281" fill="#99ccff"/><use href="#oD" x="327" y="281" fill="#0066cc"/>
<use href="#fU" x="343" y="285" fill="#ffccff"/><use href="#oU" x="343" y="285" fill="#992699"/>
<use href="#fD" x="327" y="289" fill="#ffcccc"/><use href="#oD" x="327" y="289" fill="#cc0000"/>
<use href="#fL" x="311" y="297" fill="#99ccff"/><use href="#oL" x="311" y="297" fill="#0066cc"/>
<use href="#fD" x="327" y="305" fill="#ffcccc"/><use href="#oD" x="327" y="305" fill="#cc0000"/>
<use href="#fU" x="343" y="313" fill="#99ccff"/><use href="#oU" x="343" y="313" fill="#0066cc"/>
<use href="#fR" x="359" y="321" fill="#ffcccc"/><use href="#oR" x="359" y="321" fill="#cc0000"/>
<use href="#fD" x="327" y="329" fill="#99ccff"/><use href="#oD" x="327" y="329" fill="#0066cc"/>
<use href="#fR" x="359" y="337" fill="#ffcccc"/><use href="#oR" x="359" y="337" fill="#cc0000"/>
<use href="#fD" x="327" y="345" fill="#99ccff"/><use href="#oD" x="327" y="345" fill="#0066cc"/>
<use href="#fR" x="359" y="349" fill="#ffccff"/><use href="#oR" x="359" y="349" fill="#992699"/>
<use href="#fD" x="327" y="353" fill="#ffcccc"/><use href="#oD" x="327" y="353" fill="#cc0000"/>
<use href="#fU" x="343" y="353" fill="#ffcccc"/><use href="#oU" x="343" y="353" fill="#cc0000"/>
<use href="#fU" x="343" y="361" fill="#99ccff"/><use href="#oU" x="343" y="361" fill="#0066cc"/>
<use href="#fL" x="375" y="369" fill="#ffcccc"/><use href="#oL" x="375" y="369" fill="#cc0000"/>
<use href="#fD" x="391" y="377" fill="#99ccff"/><use href="#oD" x="391" y="377" fill="#0066cc"/>
<use href="#fU" x="407" y="385" fill="#ffcccc"/><use href="#oU" x="407" y="385" fill="#cc0000"/>
<use href="#fR" x="423" y="393" fill="#99ccff"/><use href="#oR" x="423" y="393" fill="#0066cc"/>
<use href="#fD" x="391" y="401" fill="#ffcccc"/><use href="#oD" x="391" y="401" fill="#cc0000"/>
<use href="#fU" x="407" y="409" fill="#99ccff"/><use href="#oU" x="407" y="409" fill="#0066cc"/>
<use href="#fD" x="391" y="413" fill="#ffccff"/><use href="#oD" x="391" y="413" fill="#992699"/>
<use href="#fU" x="407" y="417" fill="#ffcccc"/><use href="#oU" x="407" y="417" fill="#cc0000"/>
<use href="#fD" x="391" y="425" fill="#99ccff"/><use href="#oD" x="391" y="425" fill="#0066cc"/>
<use href="#fR" x="423" y="433" fill="#ffcccc"/><use href="#oR" x="423" y="433" fill="#cc0000"/>
<use href="#fD" x="391" y="441" fill="#99ccff"/><use href="#oD" x="391" y="441" fill="#0066cc"/>
<use href="#fL" x="375" y="449" fill="#ffcccc"/><use href="#oL" x="375" y="449" fill="#cc0000"/>
<use href="#fD" x="391" y="457" fill="#99ccff"/><use href="#oD" x="391" y="457" fill="#0066cc"/>
<rect x="407" y="472" width="15" height="17" fill="#009900"/>
<rect x="408" y="472" width="13" height="17" fill="#ccffcc"/>
<use href="#tfU" x="407" y="481" fill="#ccffcc"/><use href="#toU" x="407" y="481" fill="#009900"/>
<use href="#fU" x="407" y="465" fill="#ffcccc"/><use href="#oU" x="407" y="465" fill="#cc0000"/>
<use href="#fD" x="391" y="481" fill="#ffcccc"/><use href="#oD" x="391" y="481" fill="#cc0000"/>
<use href="#fR" x="359" y="497" fill="#ffcccc"/><use href="#oR" x="359" y="497" fill="#cc0000"/>
<use href="#fL" x="375" y="497" fill="#ffcccc"/><use href="#oL" x="375" y="497" fill="#cc0000"/>
<use href="#fD" x="327" y="505" fill="#99ccff"/><use href="#oD" x="327" y="505" fill="#0066cc"/>
<use href="#fU" x="343" y="513" fill="#ffcccc"/><use href="#oU" x="343" y="513" fill="#cc0000"/>
<use href="#fD" x="327" y="521" fill="#99ccff"/><use href="#oD" x="327" y="521" fill="#0066cc"/>
<use href="#fL" x="311" y="529" fill="#ffcccc"/><use href="#oL" x="311" y="529" fill="#cc0000"/>
<use href="#fD" x="327" y="537" fill="#99ccff"/><use href="#oD" x="327" y="537" fill="#0066cc"/>
<use href="#fL" x="311" y="541" fill="#ffccff"/><use href="#oL" x="311" y="541" fill="#992699"/>
<use href="#fD" x="327" y="545" fill="#ffcccc"/><use href="#oD" x="327" y="545" fill="#cc0000"/>
<use href="#fD" x="327" y="553" fill="#99ccff"/><use href="#oD" x="327" y="553" fill="#0066cc"/>
<use href="#fU" x="343" y="561" fill="#ffcccc"/><use href="#oU" x="343" y="561" fill="#cc0000"/>
<use href="#fR" x="359" y="561" fill="#ffcccc"/><use href="#oR" x="359" y="561" fill="#cc0000"/>
<use href="#fD" x="327" y="569" fill="#99ccff"/><use href="#oD" x="327" y="569" fill="#0066cc"/>
<use href="#fU" x="343" y="577" fill="#ffcccc"/><use href="#oU" x="343" y="577" fill="#cc0000"/>
<use href="#fR" x="359" y="585" fill="#99ccff"/><use href="#oR" x="359" y="585" fill="#0066cc"/>
<use href="#fD" x="327" y="593" fill="#ffcccc"/><use href="#oD" x="327" y="593" fill="#cc0000"/>
<use href="#fR" x="359" y="601" fill="#99ccff"/><use href="#oR" x="359" y="601" fill="#0066cc"/>
<use href="#fD" x="327" y="605" fill="#ffccff"/><use href="#oD" x="327" y="605" fill="#992699"/>
<use href="#fU" x="343" y="609" fill="#ffcccc"/><use href="#oU" x="343" y="609" fill="#cc0000"/>
<use href="#fR" x="359" y="617" fill="#99ccff"/><use href="#oR" x="359" y="617" fill="#0066cc"/>
<use href="#fR" x="359" y="625" fill="#ffcccc"/><use href="#oR" x="359" y="625" fill="#cc0000"/>
<use href="#fL" x="375" y="625" fill="#ffcccc"/><use href="#oL" x="375" y="625" fill="#cc0000"/>
<use href="#fD" x="391" y="633" fill="#99ccff"/><use href="#oD" x="391" y="633" fill="#0066cc"/>
<use href="#fU" x="407" y="641" fill="#ffcccc"/><use href="#oU" x="407" y="641" fill="#cc0000"/>
<use href="#fD" x="391" y="649" fill="#99ccff"/><use href="#oD" x="391" y="649" fill="#0066cc"/>
<use href="#fU" x="407" y="657" fill="#ffcccc"/><use href="#oU" x="407" y="657" fill="#cc0000"/>
<use href="#fR" x="423" y="665" fill="#99ccff"/><use href="#oR" x="423" y="665" fill="#0066cc"/>
<use href="#fU" x="407" y="673" fill="#ffcccc"/><use href="#oU" x="407" y="673" fill="#cc0000"/>
<use href="#fD" x="391" y="681" fill="#99ccff"/><use href="#oD" x="391" y="681" fill="#0066cc"/>
<use href="#fU" x="407" y="689" fill="#ffcccc"/><use href="#oU" x="407" y="689" fill="#cc0000"/>
<use href="#fD" x="391" y="697" fill="#99ccff"/><use href="#oD" x="391" y="697" fill="#0066cc"/>
<use href="#fU" x="407" y="705" fill="#ffcccc"/><use href="#oU" x="407" y="705" fill="#cc0000"/>
<use href="#fD" x="391" y="713" fill="#99ccff"/><use href="#oD" x="391" y="713" fill="#0066cc"/>
<rect x="407" y="728" width="15" height="17" fill="#009900"/>
<rect x="408" y="728" width="13" height="17" fill="#ccffcc"/>
<use href="#tfU" x="407" y="737" fill="#ccffcc"/><use href="#toU" x="407" y="737" fill="#009900"/>
<use href="#fU" x="407" y="721" fill="#ffcccc"/><use href="#oU" x="407" y="721" fill="#cc0000"/>
<use href="#fD" x="391" y="737" fill="#ffcccc"/><use href="#oD" x="391" y="737" fill="#cc0000"/>
<use href="#fD" x="391" y="753" fill="#ffcccc"/><use href="#oD" x="391" y="753" fill="#cc0000"/>
<use href="#fU" x="407" y="753" fill="#ffcccc"/><use href="#oU" x="407" y="753" fill="#cc0000"/>
<use href="#fD" x="391" y="761" fill="#99ccff"/><use href="#oD" x="391" y="761" fill="#0066cc"/>
<use href="#fU" x="407" y="761" fill="#99ccff"/><use href="#oU" x="407" y="761" fill="#0066cc"/>
<use href="#fL" x="375" y="769" fill="#ffcccc"/><use href="#oL" x="375" y="769" fill="#cc0000"/>
<use href="#fD" x="391" y="769" fill="#ffcccc"/><use href="#oD" x="391" y="769" fill="#cc0000"/>
<use href="#fL" x="375" y="777" fill="#99ccff"/><use href="#oL" x="375" y="777" fill="#0066cc"/>
<use href="#fD" x="391" y="777" fill="#99ccff"/><use href="#oD" x="391" y="777" fill="#0066cc"/>
<use href="#fR" x="359" y="785" fill="#ffcccc"/><use href="#oR" x="359" y="785" fill="#cc0000"/>
<use href="#fD" x="327" y="793" fill="#99ccff"/><use href="#oD" x="327" y="793" fill="#0066cc"/>
<use href="#fL" x="311" y="801" fill="#ffcccc"/><use href="#oL" x="311" y="801" fill="#cc0000"/>
<use href="#fD" x="327" y="809" fill="#99ccff"/><use href="#oD" x="327" y="809" fill="#0066cc"/>
<use href="#fU" x="487" y="49" fill="#ffcccc"/><use href="#oU" x="487" y="49" fill="#cc0000"/>
<use href="#fR" x="503" y="57" fill="#99ccff"/><use href="#oR" x="503" y="57" fill="#0066cc"/>
<use href="#fD" x="471" y="65" fill="#ffcccc"/><use href="#oD" x="471" y="65" fill="#cc0000"/>
<use href="#fU" x="487" y="73" fill="#99ccff"/><use href="#oU" x="487" y="73" fill="#0066cc"/>
<use href="#fD" x="471" y="81" fill="#ffcccc"/><use href="#oD" x="471" y="81" fill="#cc0000"/>
<use href="#fU" x="487" y="89" fill="#99ccff"/><use href="#oU" x="487" y="89" fill="#0066cc"/>
<use href="#fR" x="503" y="97" fill="#ffcccc"/><use href="#oR" x="503" y="97" fill="#cc0000"/>
<use href="#fD" x="471" y="105" fill="#99ccff"/><use href="#oD" x="471" y="105" fill="#0066cc"/>
<use href="#fD" x="471" y="113" fill="#ffcccc"/><use href="#oD" x="471" y="113" fill="#cc0000"/>
<use href="#fU" x="487" y="125" fill="#ffccff"/><use href="#oU" x="487" y="125" fill="#992699"/>
<use href="#fR" x="503" y="137" fill="#99ccff"/><use href="#oR" x="503" y="137" fill="#0066cc"/>
<use href="#fD" x="471" y="153" fill="#99ccff"/><use href="#oD" x="471" y="153" fill="#0066cc"/>
<use href="#fU" x="487" y="161" fill="#ffcccc"/><use href="#oU" x="487" y="161" fill="#cc0000"/>
<use href="#fR" x="503" y="169" fill="#99ccff"/><use href="#oR" x="503" y="169" fill="#0066cc"/>
<use href="#fD" x="535" y="177" fill="#ffcccc"/><use href="#oD" x="535" y="177" fill="#cc0000"/>
<use href="#fU" x="551" y="185" fill="#99ccff"/><use href="#oU" x="551" y="185" fill="#0066cc"/>
<use href="#fR" x="567" y="193" fill="#ffcccc"/><use href="#oR" x="567" y="193" fill="#cc0000"/>
<use href="#fD" x="535" y="201" fill="#99ccff"/><use href="#oD" x="535" y="201" fill="#0066cc"/>
<use href="#fU" x="551" y="209" fill="#ffcccc"/><use href="#oU" x="551" y="209" fill="#cc0000"/>
<use href="#fD" x="535" y="217" fill="#99ccff"/><use href="#oD" x="535" y="217" fill="#0066cc"/>
<use href="#fU" x="551" y="225" fill="#ffcccc"/><use href="#oU" x="551" y="225" fill="#cc0000"/>
<use href="#fR" x="567" y="233" fill="#99ccff"/><use href="#oR" x="567" y="233" fill="#0066cc"/>
<use href="#fD" x="535" y="241" fill="#ffcccc"/><use href="#oD" x="535" y="241" fill="#cc0000"/>
<use href="#fU" x="551" y="253" fill="#ffccff"/><use href="#oU" x="551" y="253" fill="#992699"/>
<use href="#fD" x="535" y="265" fill="#99ccff"/><use href="#oD" x="535" y="265" fill="#0066cc"/>
<use href="#fR" x="503" y="281" fill="#99ccff"/><use href="#oR" x="503" y="281" fill="#0066cc"/>
<use href="#fL" x="519" y="281" fill="#99ccff"/><use href="#oL" x="519" y="281" fill="#0066cc"/>
<use href="#fR" x="503" y="289" fill="#ffcccc"/><use href="#oR" x="503" y="289" fill="#cc0000"/>
<use href="#fU" x="487" y="297" fill="#99ccff"/><use href="#oU" x="487" y="297" fill="#0066cc"/>
<use href="#fD" x="471" y="305" fill="#ffcccc"/><use href="#oD" x="471" y="305" fill="#cc0000"/>
<use href="#fU" x="487" y="313" fill="#99ccff"/><use href="#oU" x="487" y="313" fill="#0066cc"/>
<use href="#fD" x="471" y="317" fill="#ffccff"/><use href="#oD" x="471" y="317" fill="#992699"/>
<use href="#fU" x="487" y="321" fill="#ffcccc"/><use href="#oU" x="487" y="321" fill="#cc0000"/>
<use href="#fR" x="503" y="345" fill="#99ccff"/><use href="#oR" x="503" y="345" fill="#0066cc"/>
<use href="#fD" x="471" y="353" fill="#ffcccc"/><use href="#oD" x="471" y="353" fill="#cc0000"/>
<use href="#fU" x="487" y="361" fill="#99ccff"/><use href="#oU" x="487" y="361" fill="#0066cc"/>
<use href="#fD" x="471" y="369" fill="#ffcccc"/><use href="#oD" x="471" y="369" fill="#cc0000"/>
<use href="#fL" x="455" y="377" fill="#99ccff"/><use href="#oL" x="455" y="377" fill="#0066cc"/>
<use href="#fD" x="471" y="385" fill="#ffcccc"/><use href="#oD" x="471" y="385" fill="#cc0000"/>
<use href="#fD" x="471" y="409" fill="#99ccff"/><use href="#oD" x="471" y="409" fill="#0066cc"/>
<use href="#fU" x="487" y="417" fill="#ffcccc"/><use href="#oU" x="487" y="417" fill="#cc0000"/>
<use href="#fR" x="503" y="425" fill="#99ccff"/><use href="#oR" x="503" y="425" fill="#0066cc"/>
<use href="#fD" x="471" y="433" fill="#ffcccc"/><use href="#oD" x="471" y="433" fill="#cc0000"/>
<use href="#fU" x="487" y="441" fill="#99ccff"/><use href="#oU" x="487" y="441" fill="#0066cc"/>
<use href="#fD" x="471" y="449" fill="#ffcccc"/><use href="#oD" x="471" y="449" fill="#cc0000"/>
<use href="#fU" x="487" y="465" fill="#ffcccc"/><use href="#oU" x="487" y="465" fill="#cc0000"/>
<use href="#fR" x="503" y="473" fill="#99ccff"/><use href="#oR" x="503" y="473" fill="#0066cc"/>
<use href="#fL" x="519" y="473" fill="#99ccff"/><use href="#oL" x="519" y="473" fill="#0066cc"/>
<use href="#fD" x="535" y="481" fill="#ffcccc"/><use href="#oD" x="535" y="481" fill="#cc0000"/>
<use href="#fU" x="551" y="489" fill="#99ccff"/><use href="#oU" x="551" y="489" fill="#0066cc"/>
<use href="#fD" x="535" y="493" fill="#ffccff"/><use href="#oD" x="535" y="493" fill="#992699"/>
<use href="#fL" x="519" y="497" fill="#ffcccc"/><use href="#oL" x="519" y="497" fill="#cc0000"/>
<use href="#fU" x="551" y="505" fill="#99ccff"/><use href="#oU" x="551" y="505" fill="#0066cc"/>
<rect x="519" y="520" width="15" height="17" fill="#009900"/>
<rect x="520" y="520" width="13" height="17" fill="#ccffcc"/>
<use href="#tfL" x="519" y="529" fill="#ccffcc"/><use href="#toL" x="519" y="529" fill="#009900"/>
<use href="#fL" x="519" y="513" fill="#ffcccc"/><use href="#oL" x="519" y="513" fill="#cc0000"/>
<use href="#fD" x="535" y="529" fill="#ffcccc"/><use href="#oD" x="535" y="529" fill="#cc0000"/>
<use href="#fL" x="519" y="537" fill="#99ccff"/><use href="#oL" x="519" y="537" fill="#0066cc"/>
<use href="#fD" x="535" y="545" fill="#ffcccc"/><use href="#oD" x="535" y="545" fill="#cc0000"/>
<use href="#fU" x="551" y="553" fill="#99ccff"/><use href="#oU" x="551" y="553" fill="#0066cc"/>
<use href="#fD" x="535" y="561" fill="#ffcccc"/><use href="#oD" x="535" y="561" fill="#cc0000"/>
<use href="#fU" x="551" y="569" fill="#99ccff"/><use href="#oU" x="551" y="569" fill="#0066cc"/>
<use href="#fR" x="567" y="577" fill="#ffcccc"/><use href="#oR" x="567" y="577" fill="#cc0000"/>
<use href="#fD" x="535" y="585" fill="#99ccff"/><use href="#oD" x="535" y="585" fill="#0066cc"/>
<use href="#fU" x="551" y="593" fill="#ffcccc"/><use href="#oU" x="551" y="593" fill="#cc0000"/>
<use href="#fD" x="535" y="601" fill="#99ccff"/><use href="#oD" x="535" y="601" fill="#0066cc"/>
<use href="#fU" x="551" y="609" fill="#ffcccc"/><use href="#oU" x="551" y="609" fill="#cc0000"/>
<use href="#fL" x="519" y="617" fill="#99ccff"/><use href="#oL" x="519" y="617" fill="#0066cc"/>
<use href="#fD" x="535" y="625" fill="#ffcccc"/><use href="#oD" x="535" y="625" fill="#cc0000"/>
<use href="#fD" x="535" y="637" fill="#ffccff"/><use href="#oD" x="535" y="637" fill="#992699"/>
<use href="#fU" x="551" y="649" fill="#99ccff"/><use href="#oU" x="551" y="649" fill="#0066cc"/>
<use href="#fR" x="503" y="665" fill="#99ccff"/><use href="#oR" x="503" y="665" fill="#0066cc"/>
<use href="#fL" x="519" y="665" fill="#99ccff"/><use href="#oL" x="519" y="665" fill="#0066cc"/>
<use href="#fD" x="471" y="673" fill="#ffcccc"/><use href="#oD" x="471" y="673" fill="#cc0000"/>
<use href="#fR" x="503" y="673" fill="#ffcccc"/><use href="#oR" x="503" y="673" fill="#cc0000"/>
<use href="#fU" x="487" y="681" fill="#99ccff"/><use href="#oU" x="487" y="681" fill="#0066cc"/>
<use href="#fD" x="471" y="689" fill="#ffcccc"/><use href="#oD" x="471" y="689" fill="#cc0000"/>
<use href="#fL" x="455" y="697" fill="#99ccff"/><use href="#oL" x="455" y="697" fill="#0066cc"/>
<use href="#fD" x="471" y="705" fill="#ffcccc"/><use href="#oD" x="471" y="705" fill="#cc0000"/>
<use href="#fU" x="487" y="713" fill="#99ccff"/><use href="#oU" x="487" y="713" fill="#0066cc"/>
<use href="#fR" x="503" y="721" fill="#ffcccc"/><use href="#oR" x="503" y="721" fill="#cc0000"/>
<use href="#fD" x="471" y="729" fill="#99ccff"/><use href="#oD" x="471" y="729" fill="#0066cc"/>
<use href="#fU" x="487" y="737" fill="#ffcccc"/><use href="#oU" x="487" y="737" fill="#cc0000"/>
<use href="#fD" x="471" y="745" fill="#99ccff"/><use href="#oD" x="471" y="745" fill="#0066cc"/>
<use href="#fU" x="487" y="753" fill="#ffcccc"/><use href="#oU" x="487" y="753" fill="#cc0000"/>
<use href="#fD" x="471" y="765" fill="#ffccff"/><use href="#oD" x="471" y="765" fill="#992699"/>
<use href="#fU" x="487" y="777" fill="#99ccff"/><use href="#oU" x="487" y="777" fill="#0066cc"/>
<use href="#fR" x="503" y="793" fill="#99ccff"/><use href="#oR" x="503" y="793" fill="#0066cc"/>
<use href="#fL" x="519" y="801" fill="#ffcccc"/><use href="#oL" x="519" y="801" fill="#cc0000"/>
<use href="#fD" x="535" y="809" fill="#99ccff"/><use href="#oD" x="535" y="809" fill="#0066cc"/>
<use href="#fU" x="695" y="49" fill="#ffcccc"/><use href="#oU" x="695" y="49" fill="#cc0000"/>
<use href="#fL" x="663" y="57" fill="#99ccff"/><use href="#oL" x="663" y="57" fill="#0066cc"/>
<use href="#fD" x="679" y="65" fill="#ffcccc"/><use href="#oD" x="679" y="65" fill="#cc0000"/>
<use href="#fU" x="695" y="81" fill="#ffcccc"/><use href="#oU" x="695" y="81" fill="#cc0000"/>
<use href="#fD" x="679" y="89" fill="#99ccff"/><use href="#oD" x="679" y="89" fill="#0066cc"/>
<use href="#fU" x="695" y="97" fill="#ffcccc"/><use href="#oU" x="695" y="97" fill="#cc0000"/>
<use href="#fD" x="679" y="105" fill="#99ccff"/><use href="#oD" x="679" y="105" fill="#0066cc"/>
<use href="#fU" x="695" y="113" fill="#ffcccc"/><use href="#oU" x="695" y="113" fill="#cc0000"/>
<use href="#fR" x="711" y="121" fill="#99ccff"/><use href="#oR" x="711" y="121" fill="#0066cc"/>
<use href="#fD" x="679" y="129" fill="#ffcccc"/><use href="#oD" x="679" y="129" fill="#cc0000"/>
<use href="#fL" x="663" y="145" fill="#ffcccc"/><use href="#oL" x="663" y="145" fill="#cc0000"/>
<use href="#fL" x="663" y="153" fill="#99ccff"/><use href="#oL" x="663" y="153" fill="#0066cc"/>
<use href="#fR" x="647" y="161" fill="#ffcccc"/><use href="#oR" x="647" y="161" fill="#cc0000"/>
<use href="#fD" x="615" y="169" fill="#99ccff"/><use href="#oD" x="615" y="169" fill="#0066cc"/>
<use href="#fU" x="631" y="177" fill="#ffcccc"/><use href="#oU" x="631" y="177" fill="#cc0000"/>
<use href="#fD" x="615" y="185" fill="#99ccff"/><use href="#oD" x="615" y="185" fill="#0066cc"/>
<use href="#fL" x="599" y="193" fill="#ffcccc"/><use href="#oL" x="599" y="193" fill="#cc0000"/>
<use href="#fL" x="599" y="209" fill="#ffcccc"/><use href="#oL" x="599" y="209" fill="#cc0000"/>
<use href="#fD" x="615" y="217" fill="#99ccff"/><use href="#oD" x="615" y="217" fill="#0066cc"/>
<use href="#fU" x="631" y="225" fill="#ffcccc"/><use href="#oU" x="631" y="225" fill="#cc0000"/>
<use href="#fR" x="647" y="233" fill="#99ccff"/><use href="#oR" x="647" y="233" fill="#0066cc"/>
<use href="#fL" x="599" y="241" fill="#ffcccc"/><use href="#oL" x="599" y="241" fill="#cc0000"/>
<use href="#fR" x="647" y="241" fill="#ffcccc"/><use href="#oR" x="647" y="241" fill="#cc0000"/>
<use href="#fL" x="599" y="257" fill="#ffcccc"/><use href="#oL" x="599" y="257" fill="#cc0000"/>
<use href="#fD" x="615" y="257" fill="#ffcccc"/><use href="#oD" x="615" y="257" fill="#cc0000"/>
<use href="#fD" x="615" y="273" fill="#ffcccc"/><use href="#oD" x="615" y="273" fill="#cc0000"/>
<use href="#fR" x="647" y="281" fill="#99ccff"/><use href="#oR" x="647" y="281" fill="#0066cc"/>
<use href="#fD" x="679" y="289" fill="#ffcccc"/><use href="#oD" x="679" y="289" fill="#cc0000"/>
<use href="#fR" x="711" y="297" fill="#99ccff"/><use href="#oR" x="711" y="297" fill="#0066cc"/>
<use href="#fU" x="695" y="305" fill="#ffcccc"/><use href="#oU" x="695" y="305" fill="#cc0000"/>
<use href="#fL" x="663" y="313" fill="#99ccff"/><use href="#oL" x="663" y="313" fill="#0066cc"/>
<use href="#fD" x="679" y="321" fill="#ffcccc"/><use href="#oD" x="679" y="321" fill="#cc0000"/>
<use href="#fD" x="679" y="337" fill="#ffcccc"/><use href="#oD" x="679" y="337" fill="#cc0000"/>
<use href="#fU" x="695" y="345" fill="#99ccff"/><use href="#oU" x="695" y="345" fill="#0066cc"/>
<use href="#fR" x="711" y="353" fill="#ffcccc"/><use href="#oR" x="711" y="353" fill="#cc0000"/>
<use href="#fD" x="679" y="361" fill="#99ccff"/><use href="#oD" x="679" y="361" fill="#0066cc"/>
<use href="#fD" x="679" y="369" fill="#ffcccc"/><use href="#oD" x="679" y="369" fill="#cc0000"/>
<use href="#fU" x="695" y="369" fill="#ffcccc"/><use href="#oU" x="695" y="369" fill="#cc0000"/>
<use href="#fL" x="663" y="385" fill="#ffcccc"/><use href="#oL" x="663" y="385" fill="#cc0000"/>
<use href="#fR" x="711" y="385" fill="#ffcccc"/><use href="#oR" x="711" y="385" fill="#cc0000"/>
<use href="#fD" x="679" y="401" fill="#ffcccc"/><use href="#oD" x="679" y="401" fill="#cc0000"/>
<use href="#fL" x="663" y="409" fill="#99ccff"/><use href="#oL" x="663" y="409" fill="#0066cc"/>
<use href="#fR" x="647" y="417" fill="#ffcccc"/><use href="#oR" x="647" y="417" fill="#cc0000"/>
<use href="#fU" x="631" y="425" fill="#99ccff"/><use href="#oU" x="631" y="425" fill="#0066cc"/>
<use href="#fR" x="647" y="433" fill="#ffcccc"/><use href="#oR" x="647" y="433" fill="#cc0000"/>
<use href="#fD" x="615" y="441" fill="#99ccff"/><use href="#oD" x="615" y="441" fill="#0066cc"/>
<use href="#fU" x="631" y="449" fill="#ffcccc"/><use href="#oU" x="631" y="449" fill="#cc0000"/>
<use href="#fD" x="615" y="465" fill="#ffcccc"/><use href="#oD" x="615" y="465" fill="#cc0000"/>
<use href="#fL" x="599" y="473" fill="#99ccff"/><use href="#oL" x="599" y="473" fill="#0066cc"/>
<use href="#fD" x="615" y="481" fill="#ffcccc"/><use href="#oD" x="615" y="481" fill="#cc0000"/>
<use href="#fU" x="631" y="489" fill="#99ccff"/><use href="#oU" x="631" y="489" fill="#0066cc"/>
<use href="#fR" x="647" y="497" fill="#ffcccc"/><use href="#oR" x="647" y="497" fill="#cc0000"/>
<use href="#fD" x="615" y="513" fill="#ffcccc"/><use href="#oD" x="615" y="513" fill="#cc0000"/>
<use href="#fU" x="631" y="513" fill="#ffcccc"/><use href="#oU" x="631" y="513" fill="#cc0000"/>
<use href="#fR" x="647" y="529" fill="#ffcccc"/><use href="#oR" x="647" y="529" fill="#cc0000"/>
<use href="#fL" x="663" y="529" fill="#ffcccc"/><use href="#oL" x="663" y="529" fill="#cc0000"/>
<use href="#fL" x="663" y="537" fill="#99ccff"/><use href="#oL" x="663" y="537" fill="#0066cc"/>
<use href="#fD" x="679" y="545" fill="#ffcccc"/><use href="#oD" x="679" y="545" fill="#cc0000"/>
<use href="#fU" x="695" y="553" fill="#99ccff"/><use href="#oU" x="695" y="553" fill="#0066cc"/>
<use href="#fR" x="711" y="561" fill="#ffcccc"/><use href="#oR" x="711" y="561" fill="#cc0000"/>
<use href="#fD" x="679" y="569" fill="#99ccff"/><use href="#oD" x="679" y="569" fill="#0066cc"/>
<use href="#fU" x="695" y="577" fill="#ffcccc"/><use href="#oU" x="695" y="577" fill="#cc0000"/>
<use href="#fD" x="679" y="593" fill="#ffcccc"/><use href="#oD" x="679" y="593" fill="#cc0000"/>
<use href="#fU" x="695" y="601" fill="#99ccff"/><use href="#oU" x="695" y="601" fill="#0066cc"/>
<use href="#fR" x="711" y="609" fill="#ffcccc"/><use href="#oR" x="711" y="609" fill="#cc0000"/>
<use href="#fD" x="679" y="617" fill="#99ccff"/><use href="#oD" x="679" y="617" fill="#0066cc"/>
<use href="#fU" x="695" y="625" fill="#ffcccc"/><use href="#oU" x="695" y="625" fill="#cc0000"/>
<use href="#fD" x="679" y="633" fill="#99ccff"/><use href="#oD" x="679" y="633" fill="#0066cc"/>
<use href="#fL" x="663" y="641" fill="#ffcccc"/><use href="#oL" x="663" y="641" fill="#cc0000"/>
<use href="#fD" x="679" y="657" fill="#ffcccc"/><use href="#oD" x="679" y="657" fill="#cc0000"/>
<use href="#fU" x="695" y="665" fill="#99ccff"/><use href="#oU" x="695" y="665" fill="#0066cc"/>
<use href="#fR" x="711" y="673" fill="#ffcccc"/><use href="#oR" x="711" y="673" fill="#cc0000"/>
<use href="#fD" x="679" y="681" fill="#99ccff"/><use href="#oD" x="679" y="681" fill="#0066cc"/>
<use href="#fU" x="695" y="689" fill="#ffcccc"/><use href="#oU" x="695" y="689" fill="#cc0000"/>
<use href="#fD" x="679" y="697" fill="#99ccff"/><use href="#oD" x="679" y="697" fill="#0066cc"/>
<use href="#fL" x="663" y="705" fill="#ffcccc"/><use href="#oL" x="663" y="705" fill="#cc0000"/>
<use href="#fD" x="679" y="721" fill="#ffcccc"/><use href="#oD" x="679" y="721" fill="#cc0000"/>
<use href="#fL" x="663" y="729" fill="#99ccff"/><use href="#oL" x="663" y="729" fill="#0066cc"/>
<use href="#fR" x="647" y="737" fill="#ffcccc"/><use href="#oR" x="647" y="737" fill="#cc0000"/>
<use href="#fU" x="631" y="745" fill="#99ccff"/><use href="#oU" x="631" y="745" fill="#0066cc"/>
<rect x="631" y="760" width="15" height="64" fill="#009900"/>
<rect x="632" y="760" width="13" height="64" fill="#ccffcc"/>
<use href="#fU" x="631" y="753" fill="#ffcccc"/><use href="#oU" x="631" y="753" fill="#cc0000"/>
<rect x="647" y="776" width="15" height="48" fill="#009900"/>
<rect x="648" y="776" width="13" height="48" fill="#ccffcc"/>
<use href="#fR" x="647" y="769" fill="#ffcccc"/><use href="#oR" x="647" y="769" fill="#cc0000"/>
<rect x="775" y="49" width="15" height="8" fill="#009900"/>
<rect x="776" y="49" width="13" height="8" fill="#ccffcc"/>
<use href="#tfU" x="775" y="49" fill="#ccffcc"/><use href="#toU" x="775" y="49" fill="#009900"/>
<rect x="791" y="49" width="15" height="8" fill="#009900"/>
<rect x="792" y="49" width="13" height="8" fill="#ccffcc"/>
<use href="#tfR" x="791" y="49" fill="#ccffcc"/><use href="#toR" x="791" y="49" fill="#009900"/>
<rect x="743" y="296" width="15" height="65" fill="#009900"/>
<rect x="744" y="296" width="13" height="65" fill="#ccffcc"/>
<use href="#tfL" x="743" y="353" fill="#ccffcc"/><use href="#toL" x="743" y="353" fill="#009900"/>
<use href="#fL" x="743" y="289" fill="#ffcccc"/><use href="#oL" x="743" y="289" fill="#cc0000"/>
<rect x="791" y="296" width="15" height="65" fill="#009900"/>
<rect x="792" y="296" width="13" height="65" fill="#ccffcc"/>
<use href="#tfR" x="791" y="353" fill="#ccffcc"/><use href="#toR" x="791" y="353" fill="#009900"/>
<use href="#fR" x="791" y="289" fill="#ffcccc"/><use href="#oR" x="791" y="289" fill="#cc0000"/>
</svg>
<div class="t" id="artist">HUNTR/X</div>
<div class="t" id="title">What It Sounds Like</div>
<div class="t" id="bpm">BPM: 117.600 / SMANIAC DOUBLE / 14 feet</div>
<div class="t" id="a">A</div>
<div class="t" id="fa">A: 117.600 BPM</div>
<div class="t" id="fs">385 steps, 10 freeze arrows, max combo 419</div>
</body></html>
